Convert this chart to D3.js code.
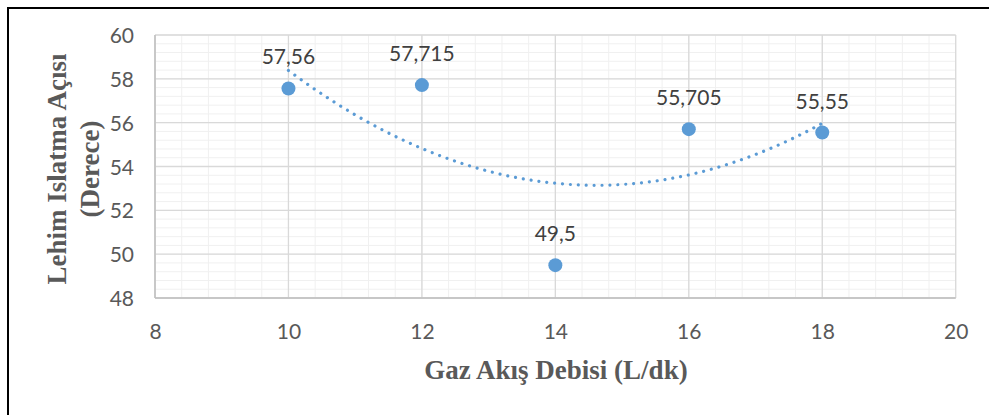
<!DOCTYPE html>
<html><head><meta charset="utf-8">
<script src="https://cdn.jsdelivr.net/npm/d3@7"></script>
<style>html,body{margin:0;padding:0;background:#fff;overflow:hidden}</style>
</head><body>
<svg id="c" width="989" height="415"></svg>
<script>
const gasFlow = [10, 12, 14, 16, 18];
const wettingAngle = [57.56, 57.715, 49.5, 55.705, 55.55];
const pointLabels = ["57,56", "57,715", "49,5", "55,705", "55,55"];
const xTicks = [8, 10, 12, 14, 16, 18, 20];
const yTicks = [48, 50, 52, 54, 56, 58, 60];
const xTitle = "Gaz Akış Debisi (L/dk)";
const yTitleLines = ["Lehim Islatma Açısı", "(Derece)"];

const svg = d3.select("#c");
const L = 155, R = 955.7, T = 35, B = 298;
const x = d3.scaleLinear().domain([8, 20]).range([L, R]);
const y = d3.scaleLinear().domain([48, 60]).range([B, T]);
const FONT = "Lato, 'Open Sans', sans-serif";

// outer border
svg.append("rect").attr("x", 8).attr("y", 8).attr("width", 1000).attr("height", 420)
  .attr("fill", "none").attr("stroke", "#000").attr("stroke-width", 2);

// minor gridlines
const minorX = d3.range(8, 20.001, 0.4);
const minorY = d3.range(48, 60.001, 0.4);
const g = svg.append("g");
g.selectAll(".mx").data(minorX).join("line")
  .attr("x1", d => x(d)).attr("x2", d => x(d)).attr("y1", T).attr("y2", B)
  .attr("stroke", "#f0f0f0").attr("stroke-width", 1);
g.selectAll(".my").data(minorY).join("line")
  .attr("y1", d => y(d)).attr("y2", d => y(d)).attr("x1", L).attr("x2", R)
  .attr("stroke", "#f0f0f0").attr("stroke-width", 1);
// major gridlines
g.selectAll(".Mx").data(xTicks).join("line")
  .attr("x1", d => x(d)).attr("x2", d => x(d)).attr("y1", T).attr("y2", B)
  .attr("stroke", "#d9d9d9").attr("stroke-width", 1.3);
g.selectAll(".My").data(yTicks).join("line")
  .attr("y1", d => y(d)).attr("y2", d => y(d)).attr("x1", L).attr("x2", R)
  .attr("stroke", "#d9d9d9").attr("stroke-width", 1.3);
// axis lines
g.append("line").attr("x1", L).attr("x2", L).attr("y1", T).attr("y2", B).attr("stroke", "#bfbfbf").attr("stroke-width", 1.5);
g.append("line").attr("x1", L).attr("x2", R).attr("y1", B).attr("y2", B).attr("stroke", "#bfbfbf").attr("stroke-width", 1.5);

// axes (labels only)
const xAxis = svg.append("g").attr("transform", `translate(0,${B})`)
  .call(d3.axisBottom(x).tickValues(xTicks).tickSize(0).tickPadding(0).tickFormat(d3.format("d")));
xAxis.select(".domain").remove();
xAxis.selectAll("text").attr("dy", null).attr("y", 41)
  .attr("font-family", FONT).attr("font-size", 21).attr("fill", "#595959");
const yAxis = svg.append("g").attr("transform", `translate(${L},0)`)
  .call(d3.axisLeft(y).tickValues(yTicks).tickSize(0).tickPadding(21).tickFormat(d3.format("d")));
yAxis.select(".domain").remove();
yAxis.selectAll("text").attr("dy", "0.36em")
  .attr("font-family", FONT).attr("font-size", 21).attr("fill", "#595959");

// quadratic trendline (least squares, as Excel polynomial order 2)
function polyFit(xs, ys) {
  const n = xs.length;
  let s = [0,0,0,0,0], t = [0,0,0];
  for (let i = 0; i < n; i++) {
    for (let k = 0; k < 5; k++) s[k] += Math.pow(xs[i], k);
    for (let k = 0; k < 3; k++) t[k] += ys[i] * Math.pow(xs[i], k);
  }
  const M = [[s[0],s[1],s[2],t[0]],[s[1],s[2],s[3],t[1]],[s[2],s[3],s[4],t[2]]];
  for (let i = 0; i < 3; i++) {
    for (let j = i+1; j < 3; j++) {
      const f = M[j][i]/M[i][i];
      for (let k = i; k < 4; k++) M[j][k] -= f*M[i][k];
    }
  }
  const c = [0,0,0];
  for (let i = 2; i >= 0; i--) {
    let v = M[i][3];
    for (let k = i+1; k < 3; k++) v -= M[i][k]*c[k];
    c[i] = v/M[i][i];
  }
  return c;
}
const coef = polyFit(gasFlow, wettingAngle);
const trendX = d3.range(gasFlow[0], gasFlow[gasFlow.length-1] + 0.001, 0.05);
const line = d3.line().x(d => x(d)).y(d => y(coef[0] + coef[1]*d + coef[2]*d*d));
svg.append("path").datum(trendX).attr("d", line)
  .attr("fill", "none").attr("stroke", "#5b9bd5").attr("stroke-width", 3.2)
  .attr("stroke-linecap", "round").attr("stroke-dasharray", "0.01 7.9");

// points
const pts = gasFlow.map((d, i) => ({x: d, y: wettingAngle[i], l: pointLabels[i]}));
svg.selectAll(".pt").data(pts).join("circle")
  .attr("cx", d => x(d.x)).attr("cy", d => y(d.y)).attr("r", 7).attr("fill", "#5b9bd5");
svg.selectAll(".lb").data(pts).join("text")
  .attr("x", d => x(d.x)).attr("y", d => y(d.y) - 24).attr("text-anchor", "middle")
  .attr("font-family", FONT).attr("font-size", 21).attr("fill", "#404040")
  .text(d => d.l);

// titles
svg.append("text").attr("x", 556).attr("y", 379).attr("text-anchor", "middle")
  .attr("font-family", "'Liberation Serif', 'Times New Roman', serif").attr("font-weight", "bold")
  .attr("font-size", 27).attr("fill", "#595959").text(xTitle);
const yt = svg.append("text").attr("transform", "translate(0,169) rotate(-90)")
  .attr("text-anchor", "middle").attr("font-family", "'Liberation Serif', 'Times New Roman', serif")
  .attr("font-weight", "bold").attr("font-size", 27).attr("fill", "#595959");
yt.append("tspan").attr("x", 0).attr("y", 66).text(yTitleLines[0]);
yt.append("tspan").attr("x", 0).attr("y", 99).text(yTitleLines[1]);
</script>
</body></html>
